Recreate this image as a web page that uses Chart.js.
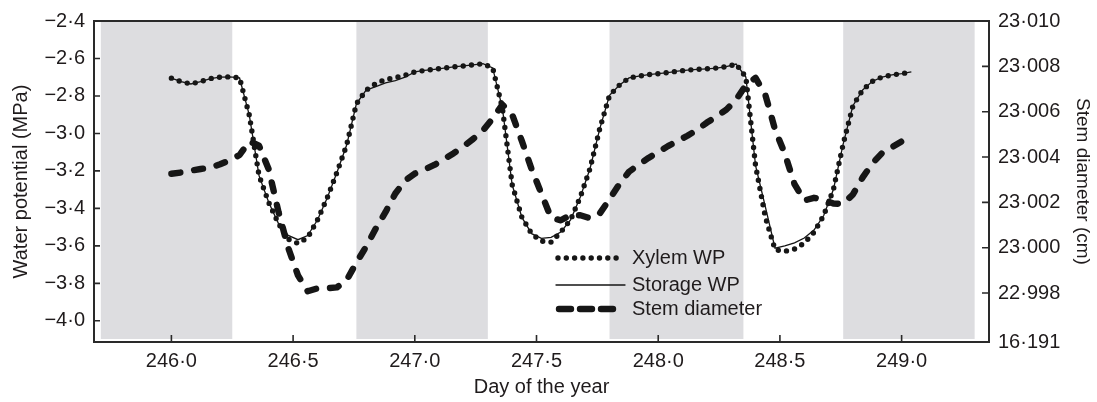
<!DOCTYPE html>
<html>
<head>
<meta charset="utf-8">
<title>Water potential and stem diameter</title>
<script src="https://cdn.jsdelivr.net/npm/chart.js@4.4.1/dist/chart.umd.min.js"></script>
<style>
  html, body { margin: 0; padding: 0; background: #fff; }
  #wrap { width: 1097px; height: 402px; position: relative; }
</style>
</head>
<body>
<div id="wrap"><canvas id="chart"></canvas></div>
<script>
// day of year, sampled every 0.04 day
const days = [
  246.00, 246.04, 246.08, 246.12, 246.16, 246.20, 246.24, 246.28, 246.32, 246.36,
  246.40, 246.44, 246.48, 246.52, 246.56, 246.60, 246.64, 246.68, 246.72, 246.76,
  246.80, 246.84, 246.88, 246.92, 246.96, 247.00, 247.04, 247.08, 247.12, 247.16,
  247.20, 247.24, 247.28, 247.32, 247.36, 247.40, 247.44, 247.48, 247.52, 247.56,
  247.60, 247.64, 247.68, 247.72, 247.76, 247.80, 247.84, 247.88, 247.92, 247.96,
  248.00, 248.04, 248.08, 248.12, 248.16, 248.20, 248.24, 248.28, 248.32, 248.36,
  248.40, 248.44, 248.48, 248.52, 248.56, 248.60, 248.64, 248.68, 248.72, 248.76,
  248.80, 248.84, 248.88, 248.92, 248.96, 249.00, 249.04
];

// MPa
const xylemWP = [
  -2.705, -2.724, -2.736, -2.723, -2.707, -2.700, -2.698, -2.704, -2.902, -3.225,
  -3.369, -3.481, -3.564, -3.587, -3.556, -3.462, -3.344, -3.208, -3.062, -2.842,
  -2.769, -2.734, -2.711, -2.703, -2.689, -2.672, -2.664, -2.658, -2.651, -2.645,
  -2.640, -2.634, -2.628, -2.650, -2.866, -3.274, -3.448, -3.535, -3.575, -3.580,
  -3.526, -3.461, -3.339, -3.187, -2.974, -2.797, -2.743, -2.704, -2.694, -2.686,
  -2.681, -2.675, -2.668, -2.662, -2.658, -2.655, -2.651, -2.644, -2.630, -2.699,
  -3.172, -3.445, -3.620, -3.629, -3.617, -3.585, -3.528, -3.438, -3.298, -3.056,
  -2.852, -2.768, -2.722, -2.699, -2.688, -2.681, -2.672
];

const storageWP = [
  -2.705, -2.724, -2.736, -2.723, -2.707, -2.700, -2.698, -2.704, -2.902, -3.225,
  -3.369, -3.481, -3.544, -3.567, -3.545, -3.462, -3.344, -3.208, -3.062, -2.842,
  -2.769, -2.750, -2.730, -2.718, -2.700, -2.672, -2.664, -2.658, -2.651, -2.645,
  -2.640, -2.634, -2.628, -2.650, -2.866, -3.274, -3.448, -3.535, -3.560, -3.555,
  -3.526, -3.461, -3.339, -3.187, -2.974, -2.797, -2.743, -2.704, -2.694, -2.686,
  -2.681, -2.675, -2.668, -2.662, -2.658, -2.655, -2.651, -2.644, -2.630, -2.699,
  -3.172, -3.391, -3.612, -3.600, -3.584, -3.558, -3.516, -3.438, -3.298, -3.056,
  -2.852, -2.768, -2.722, -2.699, -2.688, -2.681, -2.672
];

// cm
const stemDiameter = [
  23.00326, 23.00332, 23.00340, 23.00347, 23.00353, 23.00368, 23.00386, 23.00409, 23.00470, 23.00450,
  23.00345, 23.00158, 22.99999, 22.99878, 22.99808, 22.99821, 22.99821, 22.99825, 22.99857, 22.99934,
  23.00005, 23.00085, 23.00158, 23.00239, 23.00296, 23.00327, 23.00345, 23.00365, 23.00391, 23.00417,
  23.00447, 23.00480, 23.00517, 23.00570, 23.00631, 23.00587, 23.00470, 23.00346, 23.00239, 23.00131,
  23.00121, 23.00144, 23.00143, 23.00130, 23.00151, 23.00214, 23.00280, 23.00335, 23.00366, 23.00396,
  23.00422, 23.00448, 23.00471, 23.00494, 23.00520, 23.00552, 23.00579, 23.00609, 23.00653, 23.00717,
  23.00749, 23.00675, 23.00521, 23.00415, 23.00280, 23.00208, 23.00220, 23.00211, 23.00195, 23.00193,
  23.00235, 23.00310, 23.00372, 23.00418, 23.00443, 23.00469, 23.00490
];

// night periods (grey bands)
const nightStart = [245.71, 246.76, 247.80, 248.76];
const nightEnd = [246.25, 247.30, 248.35, 249.30];

// axes
const dayTicks = [246.0, 246.5, 247.0, 247.5, 248.0, 248.5, 249.0];
const wpTicks = [-2.4, -2.6, -2.8, -3.0, -3.2, -3.4, -3.6, -3.8, -4.0];
const diamTicks = [22.998, 23.000, 23.002, 23.004, 23.006, 23.008, 23.010];
const diamBreakLabel = '16\u00b7191';
const dayRange = [245.682, 249.359];
const wpRange = [-4.113, -2.4];
const diamRange = [22.99584, 23.010];

const textColor = '#1f1b1c';
const lineColor = '#161616';
const fontFamily = '"Liberation Sans", Arial, Helvetica, sans-serif';

// -2.4 -> "−2·4"
function fmt(v, digits) {
  return v.toFixed(digits).replace('-', '\u2212').replace('.', '\u00b7');
}

function toPoints(ys) {
  return days.map((d, i) => ({ x: d, y: ys[i] }));
}

// grey night bands behind the curves
const nightBands = {
  id: 'nightBands',
  beforeDatasetsDraw(chart) {
    const { ctx, chartArea, scales } = chart;
    ctx.save();
    ctx.fillStyle = 'rgb(221,221,224)';
    for (let i = 0; i < nightStart.length; i++) {
      const x0 = scales.x.getPixelForValue(nightStart[i]);
      const x1 = scales.x.getPixelForValue(nightEnd[i]);
      ctx.fillRect(x0, chartArea.top + 1, x1 - x0, chartArea.bottom - chartArea.top - 4);
    }
    ctx.restore();
  }
};

// box round the plot and inward tick marks
const frame = {
  id: 'frame',
  afterDatasetsDraw(chart) {
    const { ctx, chartArea: a, scales } = chart;
    ctx.save();
    ctx.strokeStyle = '#2a2a2a';
    ctx.lineWidth = 2;
    ctx.strokeRect(a.left, a.top, a.right - a.left, a.bottom - a.top);
    ctx.lineWidth = 1.6;
    ctx.beginPath();
    dayTicks.forEach(v => {
      const px = scales.x.getPixelForValue(v);
      ctx.moveTo(px, a.bottom);
      ctx.lineTo(px, a.bottom - 7);
    });
    wpTicks.forEach(v => {
      const py = scales.y.getPixelForValue(v);
      ctx.moveTo(a.left, py);
      ctx.lineTo(a.left + 6, py);
    });
    diamTicks.forEach(v => {
      const py = scales.y2.getPixelForValue(v);
      ctx.moveTo(a.right, py);
      ctx.lineTo(a.right - 7, py);
    });
    ctx.stroke();
    ctx.restore();
  }
};

// legend inside the plot, under the second trough
const insideLegend = {
  id: 'insideLegend',
  afterDatasetsDraw(chart) {
    const ctx = chart.ctx;
    const x0 = 556, x1 = 625, tx = 632;
    const rows = [258, 285, 309];
    ctx.save();
    ctx.strokeStyle = lineColor;
    ctx.lineCap = 'round';
    chart.data.datasets.forEach((ds, i) => {
      const y = rows[i];
      ctx.lineWidth = ds.borderWidth;
      ctx.setLineDash(ds.legendDash || ds.borderDash || []);
      ctx.beginPath();
      ctx.moveTo(x0 + (ds.legendInset || 0), y);
      ctx.lineTo(x1 - (ds.legendInset || 0), y);
      ctx.stroke();
    });
    ctx.setLineDash([]);
    ctx.fillStyle = textColor;
    ctx.font = '20px ' + fontFamily;
    ctx.textBaseline = 'middle';
    chart.data.datasets.forEach((ds, i) => {
      ctx.fillText(ds.label, tx, rows[i]);
    });
    ctx.restore();
  }
};

const ctx = document.getElementById('chart').getContext('2d');
const chart = new Chart(ctx, {
  type: 'line',
  data: {
    datasets: [
      {
        label: 'Xylem WP',
        data: toPoints(xylemWP),
        yAxisID: 'y',
        borderColor: lineColor,
        borderWidth: 5.4,
        borderDash: [0, 8.3],
        borderCapStyle: 'round',
        borderJoinStyle: 'round',
        legendInset: 2,
        pointRadius: 0,
        fill: false
      },
      {
        label: 'Storage WP',
        data: toPoints(storageWP),
        yAxisID: 'y',
        borderColor: lineColor,
        borderWidth: 1.3,
        pointRadius: 0,
        fill: false
      },
      {
        label: 'Stem diameter',
        data: toPoints(stemDiameter),
        yAxisID: 'y2',
        borderColor: lineColor,
        borderWidth: 6.4,
        borderDash: [9, 14],
        legendDash: [12, 9],
        legendInset: 3,
        borderCapStyle: 'round',
        borderJoinStyle: 'round',
        pointRadius: 0,
        fill: false
      }
    ]
  },
  options: {
    responsive: true,
    maintainAspectRatio: false,
    animation: false,
    layout: { padding: { top: 14, left: 0, right: 0, bottom: 0 } },
    plugins: {
      legend: { display: false },
      tooltip: { enabled: false }
    },
    scales: {
      x: {
        type: 'linear',
        min: dayRange[0],
        max: dayRange[1],
        afterBuildTicks: s => { s.ticks = dayTicks.map(v => ({ value: v })); },
        afterFit: s => { s.height = 60; },
        grid: { display: false, drawTicks: false },
        border: { display: false },
        ticks: {
          autoSkip: false,
          maxRotation: 0,
          padding: 7,
          color: textColor,
          font: { family: fontFamily, size: 20 },
          callback: v => fmt(v, 1)
        },
        title: {
          display: true,
          text: 'Day of the year',
          color: textColor,
          font: { family: fontFamily, size: 20 },
          padding: { top: 0, bottom: 3 }
        }
      },
      y: {
        type: 'linear',
        position: 'left',
        min: wpRange[0],
        max: wpRange[1],
        afterBuildTicks: s => { s.ticks = wpTicks.map(v => ({ value: v })); },
        afterFit: s => { s.width = 94; },
        grid: { display: false, drawTicks: false },
        border: { display: false },
        ticks: {
          autoSkip: false,
          padding: 9,
          color: textColor,
          font: { family: fontFamily, size: 20 },
          callback: v => fmt(v, 1)
        },
        title: {
          display: true,
          text: 'Water potential (MPa)',
          color: textColor,
          font: { family: fontFamily, size: 20 },
          padding: { top: 9, bottom: 0 }
        }
      },
      y2: {
        type: 'linear',
        position: 'right',
        min: diamRange[0],
        max: diamRange[1],
        afterBuildTicks: s => {
          s.ticks = [diamRange[0]].concat(diamTicks).map(v => ({ value: v }));
        },
        afterFit: s => { s.width = 108; },
        grid: { display: false, drawTicks: false },
        border: { display: false },
        ticks: {
          autoSkip: false,
          padding: 9,
          color: textColor,
          font: { family: fontFamily, size: 20 },
          callback: v => (v === diamRange[0] ? diamBreakLabel : fmt(v, 3))
        },
        title: {
          display: true,
          text: 'Stem diameter (cm)',
          color: textColor,
          font: { family: fontFamily, size: 19 },
          padding: { top: 3, bottom: 0 }
        }
      }
    }
  },
  plugins: [nightBands, frame, insideLegend]
});
</script>
</body>
</html>
